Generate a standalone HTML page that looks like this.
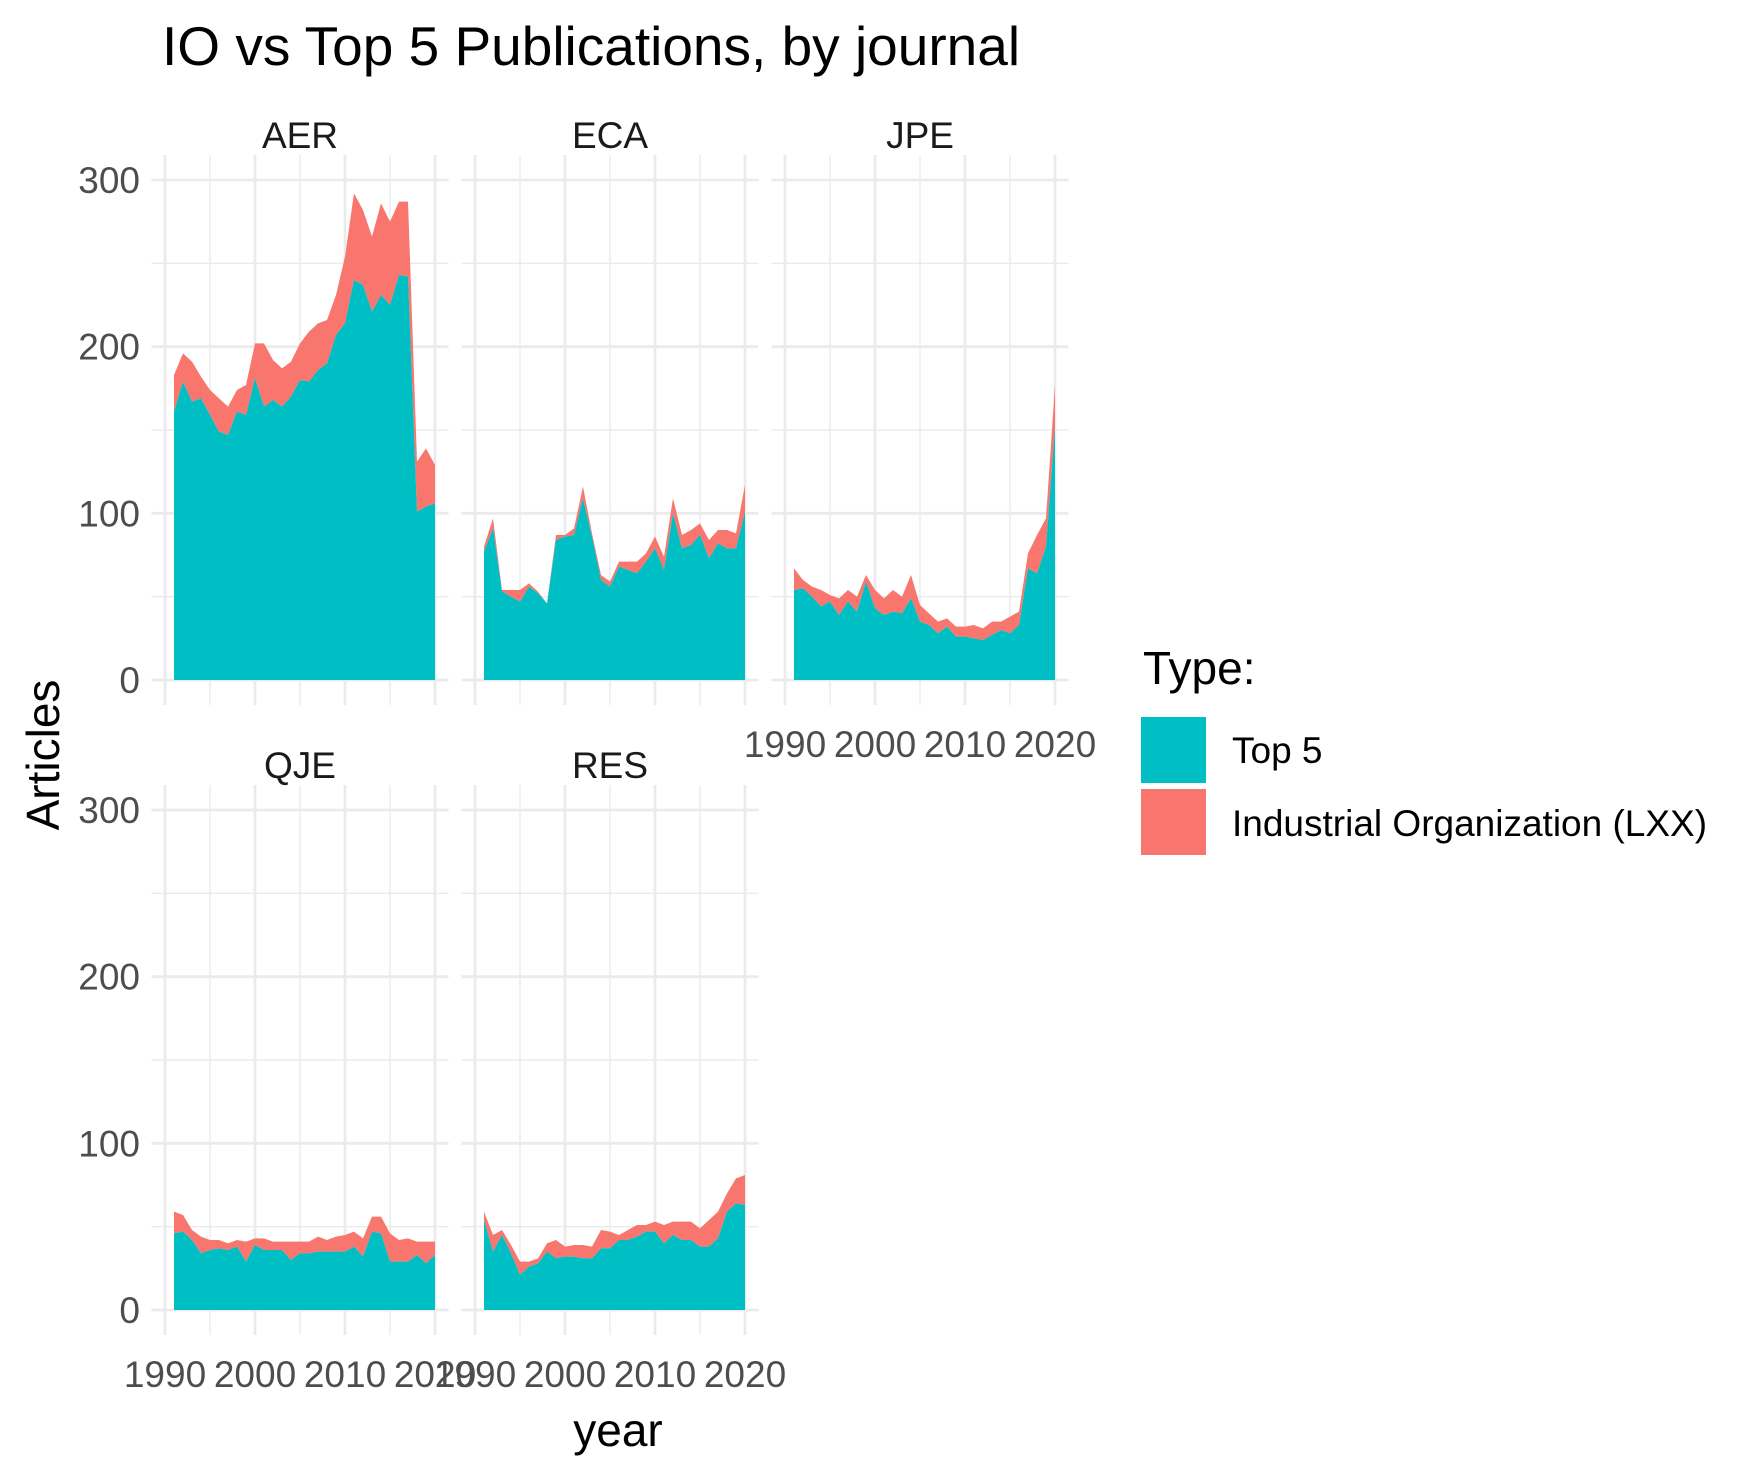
<!DOCTYPE html>
<html><head><meta charset="utf-8"><style>
html,body{margin:0;padding:0;background:#fff;}
svg{display:block;font-family:"Liberation Sans",Arial,sans-serif;}
</style></head><body>
<svg id="chart" width="1746" height="1468" viewBox="0 0 1746 1468" xmlns="http://www.w3.org/2000/svg">
<text x="162" y="65" font-size="55" fill="#000">IO vs Top 5 Publications, by journal</text>
<text x="0" y="0" font-size="46" fill="#000" text-anchor="middle" transform="translate(59,755) rotate(-90)">Articles</text>
<text x="618" y="1446" font-size="46" fill="#000" text-anchor="middle">year</text>
<g>
<text x="1143" y="684" font-size="46" fill="#000">Type:</text>
<rect x="1141" y="717" width="65" height="66" fill="#00BFC4"/>
<text x="1232" y="763" font-size="37" fill="#000">Top 5</text>
<rect x="1141" y="789" width="65" height="66" fill="#F8766D"/>
<text x="1232" y="836" font-size="37" fill="#000">Industrial Organization (LXX)</text>
</g>
<g id="panels"></g>
</svg>
<script>
const years = [1991,1992,1993,1994,1995,1996,1997,1998,1999,2000,2001,2002,2003,2004,2005,2006,2007,2008,2009,2010,2011,2012,2013,2014,2015,2016,2017,2018,2019,2020];
const journals = ["AER","ECA","JPE","QJE","RES"];
const yTicks = [0,100,200,300];
const xTicks = [1990,2000,2010,2020];
const aerTop5 = [161,179,167,169,159,149,147,161,159,181,164,168,164,170,180,179,186,190,207,214,240,237,221,231,225,243,242,101,104,106];
const aerIO   = [22,17,24,13,15,20,17,13,18,21,38,24,23,21,22,30,28,26,24,40,52,45,45,55,50,44,45,30,35,23];
const ecaTop5 = [77,91,53,50,47,56,52,46,84,86,87,109,86,60,56,68,66,64,71,79,66,100,79,81,87,73,82,79,79,101];
const ecaIO   = [3,6,1,4,7,2,1,0,3,1,4,7,2,3,3,3,5,7,5,7,8,9,8,9,7,11,8,11,9,16];
const jpeTop5 = [54,55,50,44,47,39,47,41,59,43,39,41,40,49,35,33,28,32,26,26,25,24,27,30,28,33,67,64,80,152];
const jpeIO   = [13,5,6,10,4,10,7,9,4,11,10,13,10,14,10,7,7,5,6,6,8,7,8,5,10,8,9,23,17,25];
const qjeTop5 = [46,47,42,34,36,37,36,38,29,39,36,36,36,30,34,34,35,35,35,35,38,32,47,46,29,29,29,33,28,33];
const qjeIO   = [13,10,6,10,6,5,4,4,12,4,7,5,5,11,7,7,9,7,9,10,9,11,9,10,17,13,14,8,13,8];
const resTop5 = [54,35,45,34,21,26,28,35,31,32,32,31,31,37,37,42,42,44,47,47,40,45,42,42,38,38,43,59,64,63];
const resIO   = [5,10,3,5,8,3,3,5,11,6,7,8,7,11,10,3,6,7,4,6,11,8,11,11,11,16,16,11,15,18];
const top5Series = [aerTop5,ecaTop5,jpeTop5,qjeTop5,resTop5];
const ioSeries = [aerIO,ecaIO,jpeIO,qjeIO,resIO];

const NS = "http://www.w3.org/2000/svg";
const root = document.getElementById("panels");
const PW = 270, PH = 500;
const panelPos = [[165,680],[475,680],[785,680],[165,1310],[475,1310]];
function mk(tag, attrs, parent){ const e=document.createElementNS(NS,tag); for(const k in attrs) e.setAttribute(k,attrs[k]); parent.appendChild(e); return e; }

journals.forEach((j, pi) => {
  const [x0, y0] = panelPos[pi];
  const sx = yr => x0 + (yr - 1990) / 30 * PW;
  const sy = v => y0 - v / 300 * PH;
  const g = mk("g", {}, root);
  
  
  const left = sx(1988.5), right = sx(2021.5), top = sy(315), bot = sy(-15);
  [50,150,250].forEach(v => { const l=mk("line",{x1:left,x2:right,y1:sy(v),y2:sy(v),stroke:"#EBEBEB","stroke-width":1.4},g);
      });
  [1995,2005,2015].forEach(v => { const l=mk("line",{x1:sx(v),x2:sx(v),y1:top,y2:bot,stroke:"#EBEBEB","stroke-width":1.4},g);
      });
  yTicks.forEach(v => { const l=mk("line",{x1:left,x2:right,y1:sy(v),y2:sy(v),stroke:"#EBEBEB","stroke-width":2.8},g);
      });
  xTicks.forEach(v => { const l=mk("line",{x1:sx(v),x2:sx(v),y1:top,y2:bot,stroke:"#EBEBEB","stroke-width":2.8},g);
      });
  const t5 = top5Series[pi], io = ioSeries[pi];
  let d1 = "M" + sx(years[0]) + "," + sy(0);
  years.forEach((yr,i) => { d1 += " L" + sx(yr) + "," + sy(t5[i]); });
  d1 += " L" + sx(years[years.length-1]) + "," + sy(0) + " Z";
  let d2 = "";
  years.forEach((yr,i) => { d2 += (i? " L":"M") + sx(yr) + "," + sy(t5[i] + io[i]); });
  for (let i = years.length-1; i >= 0; i--) d2 += " L" + sx(years[i]) + "," + sy(t5[i]);
  d2 += " Z";
  const a2 = mk("path",{d:d2,fill:"#F8766D"},g);
  
  
  const a1 = mk("path",{d:d1,fill:"#00BFC4"},g);
  
  
  const st = mk("text",{x:x0+PW/2,y:y0-PH-32,"font-size":37,fill:"#1A1A1A","text-anchor":"middle"},g);
  st.textContent = j;
  
  
  if (pi === 0 || pi === 3) {
    yTicks.forEach(v => { const t=mk("text",{x:140,y:sy(v)+13,"font-size":37,fill:"#4D4D4D","text-anchor":"end"},g);
      t.textContent = v;
      
       });
  }
  if (pi >= 2) {
    xTicks.forEach(v => { const t=mk("text",{x:sx(v),y:y0+77,"font-size":37,fill:"#4D4D4D","text-anchor":"middle"},g);
      t.textContent = v;
      
       });
  }
});
</script>
</body></html>
